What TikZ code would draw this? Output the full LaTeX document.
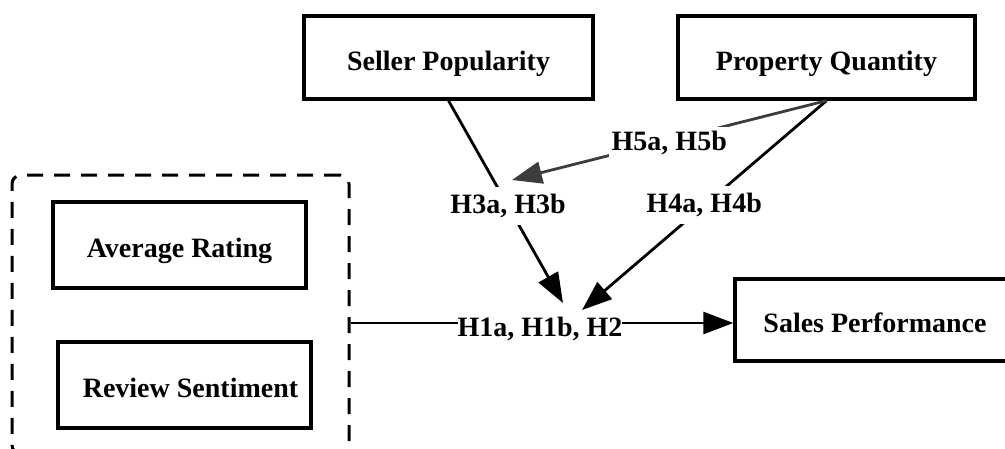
\documentclass[tikz,border=0pt]{standalone}
\usepackage{fontspec}
\setmainfont{Liberation Serif}
\usetikzlibrary{arrows.meta}
\definecolor{linkgray}{RGB}{60,60,60}
\begin{document}
\begin{tikzpicture}[x=1pt,y=-1pt,
  lbl/.style={font=\bfseries\fontsize{28}{34}\selectfont},
  box/.style={lbl, draw, line width=3.3pt, fill=white, inner sep=0pt,
              text height=25pt, text depth=0pt},
  link/.style={line width=2.8pt, -{Triangle[length=30pt,width=22pt]}},
  hyp/.style={lbl, fill=white, inner xsep=3pt, inner ysep=7pt},
]
\useasboundingbox (0,0) rectangle (1005,448);
\clip (0,0) rectangle (1005,448);

% constructs
\node[box, minimum width=289pt, minimum height=83pt] (sp) at (448.5,57.5) {Seller Popularity};
\node[box, minimum width=297pt, minimum height=83pt] (pq) at (826.5,57.5) {Property Quantity};
\node[box, minimum width=253pt, minimum height=86pt] (ar) at (179.5,245) {Average Rating};
\node[box, minimum width=253pt, minimum height=86pt] (rs) at (184.5,385) {\hspace*{12pt}Review Sentiment};
\node[box, minimum width=280pt, minimum height=82pt] (spf) at (875,320) {Sales Performance};

% group of review variables
\node[draw, line width=3pt, dash pattern=on 16pt off 11pt, rounded corners=9pt,
      minimum width=337pt, minimum height=279pt] (grp) at (180.5,314.5) {};

% arrow end points
\coordinate (t3) at (563,303);
\coordinate (t4) at (582,310);
\coordinate (t5) at (512,180);
\coordinate (h1s) at (grp.east |- 0,323);

% hypotheses
\draw[link] (h1s) -- node[lbl, fill=white, inner xsep=0pt, inner ysep=2pt, pos=0.495, yshift=-6pt] (l1) {H1a, H1b, H2} (spf.west |- h1s);
\draw[link] (sp.south) -- node[hyp, pos=0.52] (l3) {H3a, H3b} (t3);
\draw[link] (pq.south) -- node[hyp, pos=0.5] (l4) {H4a, H4b} (t4);
\draw[link, draw=linkgray] (pq.south) -- node[hyp, inner ysep=4pt, pos=0.5, yshift=-3pt] (l5) {H5a, H5b} (t5);
\end{tikzpicture}
\end{document}
